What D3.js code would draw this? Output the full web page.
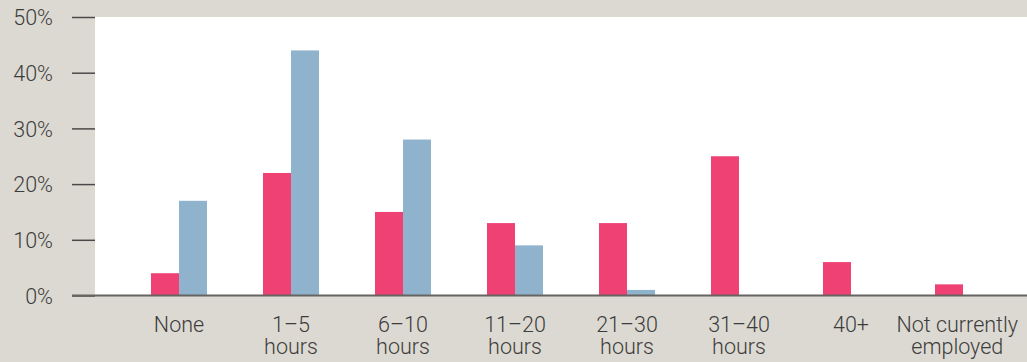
<!DOCTYPE html>
<html>
<head>
<meta charset="utf-8">
<script src="https://cdn.jsdelivr.net/npm/d3@7"></script>
<style>
  html, body { margin: 0; padding: 0; background: #dcd9d2; }
  svg { display: block; }
  text { font-family: Roboto, "Liberation Sans", sans-serif; font-weight: 300; fill: #3c3c3c; }
</style>
</head>
<body>
<svg id="chart" width="1027" height="362"></svg>
<script>
// Hours worked per week: two series of shares (%)
const categories = ["None", "1–5 hours", "6–10 hours", "11–20 hours", "21–30 hours", "31–40 hours", "40+", "Not currently employed"];
const labelLines = [["None"], ["1–5", "hours"], ["6–10", "hours"], ["11–20", "hours"], ["21–30", "hours"], ["31–40", "hours"], ["40+"], ["Not currently", "employed"]];
const seriesNames = ["pink", "blue"];
const pinkValues = [4, 22, 15, 13, 13, 25, 6, 2];
const blueValues = [17, 44, 28, 9, 1, 0, 0, 0];
const yTicks = [0, 10, 20, 30, 40, 50];

const colors = { pink: "#f04175", blue: "#8fb3cd" };

const svg = d3.select("#chart");
const W = 1027;
const plotLeft = 95, plotTop = 17, plotBottom = 295.5;

const y = d3.scaleLinear().domain([0, 50]).range([plotBottom, plotTop]);
const x = d3.scaleBand().domain(categories).range([123, 1019]).paddingInner(0.5).paddingOuter(0.25);
const xs = d3.scaleBand().domain(seriesNames).range([0, x.bandwidth()]);

// white plotting area
svg.append("rect")
  .attr("x", plotLeft).attr("y", plotTop)
  .attr("width", W - plotLeft).attr("height", plotBottom - plotTop)
  .attr("fill", "#ffffff");

// y axis: tick marks and percentage labels
const yAxis = d3.axisLeft(y).tickValues(yTicks).tickSize(23).tickPadding(19).tickFormat(d => d + "%");
const gy = svg.append("g").attr("transform", `translate(${plotLeft},0)`).call(yAxis);
gy.select(".domain").remove();
gy.selectAll(".tick line").attr("stroke", "#4a4a4a").attr("stroke-width", 1.5);
gy.selectAll(".tick text").style("font-size", "21.5px").attr("fill", "#3c3c3c").attr("dy", "0.36em");

// bars
const data = categories.map((c, i) => ({ cat: c, pink: pinkValues[i], blue: blueValues[i] }));
const groups = svg.append("g").selectAll("g").data(data).join("g")
  .attr("transform", d => `translate(${x(d.cat)},0)`);
groups.selectAll("rect")
  .data(d => seriesNames.map(s => ({ s, v: d[s] })).filter(e => e.v > 0))
  .join("rect")
  .attr("x", e => xs(e.s))
  .attr("width", xs.bandwidth())
  .attr("y", e => y(e.v))
  .attr("height", e => y(0) - y(e.v))
  .attr("fill", e => colors[e.s]);

// baseline
svg.append("line")
  .attr("x1", 72).attr("x2", W)
  .attr("y1", y(0)).attr("y2", y(0))
  .attr("stroke", "#666461").attr("stroke-width", 2);

// category labels, centred under each group; nudged left if they would run past the right edge
const xl = svg.append("g");
const rightLimit = W - 9;
categories.forEach((c, i) => {
  let cx = x(c) + x.bandwidth() / 2;
  const t = xl.append("text")
    .attr("y", 331.5)
    .attr("text-anchor", "middle")
    .style("font-size", "21.5px");
  const spans = labelLines[i].map((line, j) =>
    t.append("tspan").attr("dy", j === 0 ? 0 : 22.5).text(line));
  const maxW = d3.max(spans, s => s.node().getComputedTextLength());
  if (cx + maxW / 2 > rightLimit) cx = rightLimit - maxW / 2;
  t.attr("x", cx);
  spans.forEach(s => s.attr("x", cx));
});
</script>
</body>
</html>
